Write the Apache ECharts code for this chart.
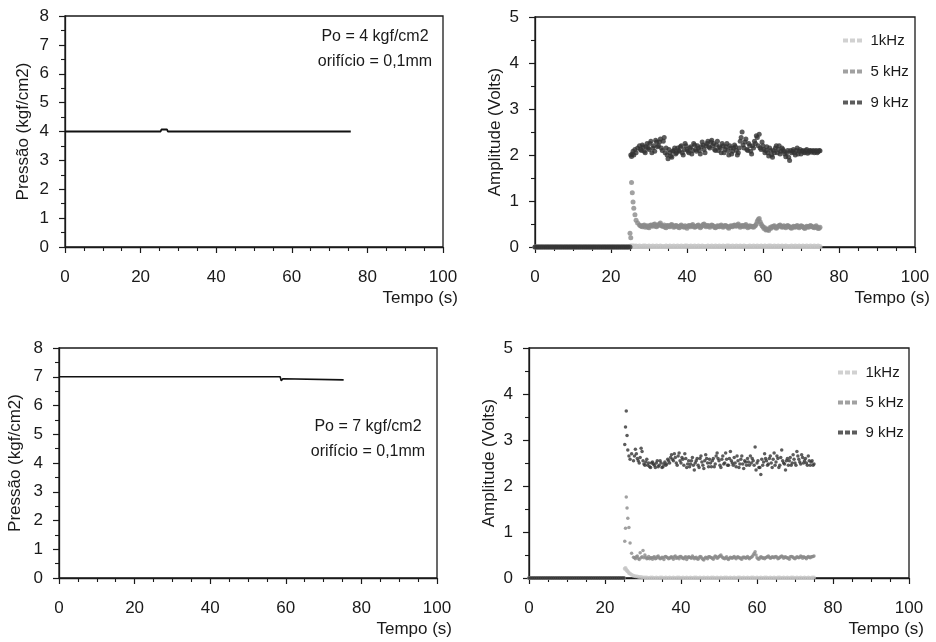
<!DOCTYPE html>
<html><head><meta charset="utf-8">
<script src="https://cdn.jsdelivr.net/npm/echarts@6/dist/echarts.min.js"></script>
<style>html,body{margin:0;padding:0;background:#fff}#c{width:936px;height:642px}</style>
</head><body><div id="c"></div>
<script>
// ---------- data ----------
const xTicks = [0, 20, 40, 60, 80, 100];
// pressure panels
const pressaoTempoA = [0, 25.3, 25.5, 27.0, 27.2, 75.6];
const pressaoA = [4, 4, 4.07, 4.07, 4, 4];
const pressaoTempoB = [0, 58.5, 58.8, 59.2, 59.5, 75.3];
const pressaoB = [7, 7, 6.86, 6.93, 6.89, 6.89];
const notaA = ['Po = 4 kgf/cm2', 'orifício = 0,1mm'];
const notaB = ['Po = 7 kgf/cm2', 'orifício = 0,1mm'];
const serieNomes = ['1kHz', '5 kHz', '9 kHz'];

// amplitude: before valve opening (all series)
const tempoPre = [0,0.5,1,1.5,2,2.5,3,3.5,4,4.5,5,5.5,6,6.5,7,7.5,8,8.5,9,9.5,10,10.5,11,11.5,12,12.5,13,13.5,14,14.5,15,15.5,16,16.5,17,17.5,18,18.5,19,19.5,20,20.5,21,21.5,22,22.5,23,23.5,24,24.5];
const ampPre = [0,0,0,0,0,0,0,0,0,0,0,0,0,0,0,0,0,0,0,0,0,0,0,0,0,0,0,0,0,0,0,0,0,0,0,0,0,0,0,0,0,0,0,0,0,0,0,0,0,0];

// amplitude: after opening
const tempoPos = [25,25.2,25.4,25.6,25.8,26,26.3,26.6,27,
27.5,28,28.5,29,29.5,30,30.5,31,31.5,32,
32.5,33,33.5,34,34.5,35,35.5,36,36.5,37,
37.5,38,38.5,39,39.5,40,40.5,41,41.5,42,
42.5,43,43.5,44,44.5,45,45.5,46,46.5,47,
47.5,48,48.5,49,49.5,50,50.5,51,51.5,52,
52.5,53,53.5,54,54.5,55,55.5,56,56.5,57,
57.5,58,58.5,59,59.5,60,60.5,61,61.5,62,
62.5,63,63.5,64,64.5,65,65.5,66,66.5,67,
67.5,68,68.5,69,69.5,70,70.5,71,71.5,72,
72.5,73,73.5,74,74.5,75];
// intermediate samples (between the ones above)
const tempoMeio = [27.75,28.25,28.75,29.25,29.75,30.25,30.75,31.25,31.75,32.25,
32.75,33.25,33.75,34.25,34.75,35.25,35.75,36.25,36.75,37.25,
37.75,38.25,38.75,39.25,39.75,40.25,40.75,41.25,41.75,42.25,
42.75,43.25,43.75,44.25,44.75,45.25,45.75,46.25,46.75,47.25,
47.75,48.25,48.75,49.25,49.75,50.25,50.75,51.25,51.75,52.25,
52.75,53.25,53.75,54.25,54.75,55.25,55.75,56.25,56.75,57.25,
57.75,58.25,58.75,59.25,59.75,60.25,60.75,61.25,61.75,62.25,
62.75,63.25,63.75,64.25,64.75,65.25,65.75,66.25,66.75,67.25,
67.75,68.25,68.75,69.25,69.75,70.25,70.75,71.25,71.75,72.25,
72.75,73.25,73.75,74.25,74.75];

// Po = 4
const amp9kA = [0,2.0,1.97,2.02,2.08,2.0,2.12,2.05,2.15,
2.2,2.1,2.18,2.05,2.25,2.12,2.3,2.15,2.08,2.28,
2.2,2.35,2.1,2.38,2.15,1.92,2.05,1.95,2.1,2.02,
2.15,2.08,2.2,2.0,2.25,2.12,2.05,2.18,2.1,2.22,
2.08,2.15,2.02,2.28,2.12,2.2,2.3,2.15,2.32,2.25,
2.1,2.3,2.18,2.05,2.2,2.12,2.25,2.0,2.15,2.08,
2.22,2.1,2.05,2.3,2.5,2.15,2.35,2.1,2.2,2.02,
2.15,2.25,2.38,2.45,2.12,2.2,2.05,2.18,1.98,2.1,
1.95,2.05,2.2,2.12,2.02,2.15,2.08,1.96,2.1,1.88,
2.05,2.12,2.0,2.15,2.08,2.02,2.1,2.05,2.12,2.06,
2.1,2.08,2.05,2.1,2.07,2.09];
const amp9kA2 = [2.12,2.22,2.08,2.18,2.15,2.25,2.05,2.2,2.32,2.18,
2.28,2.15,2.3,2.05,2.0,2.12,1.98,2.08,2.15,2.05,
2.1,2.18,2.05,2.12,2.2,2.08,2.15,2.02,2.25,2.12,
2.2,2.1,2.18,2.22,2.05,2.25,2.18,2.28,2.2,2.12,
2.22,2.1,2.15,2.25,2.05,2.18,2.1,2.2,2.02,2.15,
2.18,2.0,2.15,2.38,2.22,2.28,2.12,2.25,2.08,2.2,
2.3,2.42,2.2,2.15,2.28,2.12,2.1,2.05,2.15,2.0,
2.1,2.15,2.05,2.2,2.08,2.12,2.02,2.05,1.95,2.1,
2.08,2.05,2.1,2.02,2.12,2.08,2.06,2.1,2.04,2.09,
2.06,2.1,2.08,2.05,2.1];
const amp5kA = [0.3,0.2,1.4,1.18,0.98,0.84,0.7,0.58,0.52,
0.48,0.45,0.47,0.43,0.46,0.42,0.48,0.45,0.5,0.44,
0.47,0.52,0.45,0.48,0.42,0.46,0.44,0.49,0.43,0.47,
0.45,0.42,0.48,0.44,0.46,0.41,0.47,0.44,0.49,0.43,
0.45,0.48,0.42,0.46,0.5,0.44,0.47,0.43,0.48,0.45,
0.42,0.46,0.44,0.48,0.43,0.47,0.45,0.41,0.46,0.44,
0.48,0.45,0.5,0.43,0.47,0.44,0.49,0.42,0.46,0.45,
0.43,0.47,0.56,0.62,0.5,0.44,0.42,0.38,0.36,0.4,
0.43,0.46,0.41,0.45,0.48,0.43,0.46,0.42,0.47,0.44,
0.41,0.45,0.43,0.47,0.42,0.46,0.44,0.4,0.45,0.43,
0.47,0.44,0.42,0.46,0.4,0.43];
const amp5kA2 = [0.46,0.44,0.48,0.45,0.43,0.47,0.46,0.49,0.45,0.48,
0.5,0.47,0.45,0.43,0.47,0.45,0.48,0.46,0.44,0.46,
0.43,0.46,0.45,0.43,0.44,0.45,0.46,0.47,0.45,0.44,
0.47,0.45,0.44,0.49,0.47,0.46,0.45,0.46,0.47,0.43,
0.44,0.45,0.46,0.45,0.45,0.46,0.43,0.44,0.45,0.47,
0.46,0.48,0.46,0.45,0.46,0.47,0.45,0.44,0.44,0.44,
0.45,0.5,0.6,0.55,0.46,0.4,0.37,0.38,0.42,0.44,
0.45,0.43,0.43,0.47,0.45,0.44,0.44,0.45,0.45,0.42,
0.43,0.44,0.45,0.44,0.44,0.45,0.42,0.43,0.44,0.45,
0.45,0.43,0.44,0.43,0.41];
const amp1kA = [0,0.02,0.01,0.02,0.01,0.02,0.01,0.02,0.01,
0.02,0.01,0.02,0.02,0.01,0.02,0.01,0.02,0.01,0.02,
0.01,0.02,0.01,0.01,0.02,0.01,0.02,0.01,0.02,0.01,
0.02,0.01,0.02,0.01,0.02,0.02,0.01,0.02,0.01,0.02,
0.01,0.02,0.01,0.02,0.01,0.01,0.02,0.01,0.02,0.01,
0.02,0.01,0.02,0.01,0.02,0.01,0.02,0.02,0.01,0.02,
0.01,0.02,0.01,0.02,0.01,0.02,0.01,0.01,0.02,0.01,
0.02,0.01,0.02,0.01,0.02,0.01,0.02,0.01,0.02,0.02,
0.01,0.02,0.01,0.02,0.01,0.02,0.01,0.02,0.01,0.01,
0.02,0.01,0.02,0.01,0.02,0.01,0.02,0.01,0.02,0.01,
0.02,0.01,0.02,0.01,0.02,0.01];

// Po = 7
const amp9kB = [0,2.9,3.28,3.63,3.1,2.78,2.65,2.58,2.7,
2.55,2.8,2.6,2.5,2.82,2.55,2.45,2.58,2.5,2.4,
2.52,2.45,2.5,2.42,2.55,2.4,2.48,2.45,2.58,2.5,
2.68,2.55,2.62,2.45,2.72,2.5,2.58,2.7,2.4,2.55,
2.48,2.62,2.35,2.55,2.45,2.6,2.52,2.38,2.68,2.5,
2.58,2.42,2.6,2.48,2.72,2.55,2.4,2.65,2.5,2.58,
2.45,2.75,2.5,2.62,2.42,2.55,2.48,2.65,2.38,2.52,
2.6,2.45,2.5,2.55,2.85,2.5,2.4,2.25,2.45,2.7,
2.55,2.48,2.65,2.4,2.72,2.52,2.6,2.45,2.78,2.5,
2.35,2.6,2.55,2.45,2.68,2.5,2.75,2.58,2.48,2.62,
2.55,2.5,2.65,2.45,2.55,2.48];
const amp9kB2 = [2.65,2.7,2.55,2.62,2.75,2.48,2.52,2.45,2.42,2.5,
2.48,2.4,2.55,2.45,2.5,2.42,2.52,2.48,2.55,2.62,
2.58,2.7,2.5,2.65,2.55,2.62,2.45,2.6,2.48,2.42,
2.55,2.45,2.5,2.6,2.4,2.65,2.45,2.55,2.6,2.42,
2.5,2.55,2.42,2.65,2.6,2.45,2.58,2.48,2.72,2.45,
2.6,2.55,2.45,2.5,2.65,2.4,2.58,2.48,2.55,2.45,
2.52,2.65,2.6,2.45,2.35,2.55,2.4,2.58,2.52,2.6,
2.45,2.6,2.5,2.58,2.45,2.65,2.4,2.62,2.55,2.48,
2.55,2.45,2.62,2.5,2.58,2.45,2.65,2.52,2.68,2.5,
2.6,2.45,2.55,2.52,2.45];
const amp5kB = [0,0.8,1.08,1.76,1.52,1.3,1.1,0.76,0.54,
0.45,0.42,0.48,0.4,0.44,0.6,0.5,0.42,0.47,0.44,
0.41,0.46,0.43,0.48,0.42,0.45,0.4,0.47,0.44,0.43,
0.46,0.41,0.48,0.44,0.42,0.47,0.43,0.45,0.4,0.46,
0.44,0.48,0.42,0.45,0.41,0.47,0.43,0.39,0.45,0.42,
0.46,0.44,0.41,0.48,0.43,0.47,0.5,0.44,0.42,0.46,
0.4,0.45,0.43,0.47,0.42,0.46,0.44,0.41,0.45,0.43,
0.47,0.42,0.45,0.5,0.57,0.44,0.41,0.46,0.43,0.42,
0.45,0.48,0.43,0.46,0.44,0.47,0.42,0.45,0.48,0.43,
0.46,0.44,0.41,0.47,0.45,0.42,0.46,0.44,0.48,0.43,
0.45,0.42,0.47,0.44,0.46,0.48];
const amp5kB2 = [0.44,0.46,0.43,0.55,0.46,0.44,0.45,0.43,0.42,0.44,
0.45,0.42,0.46,0.44,0.43,0.44,0.46,0.45,0.42,0.45,
0.44,0.46,0.43,0.45,0.47,0.44,0.42,0.46,0.44,0.45,
0.43,0.45,0.44,0.42,0.44,0.46,0.41,0.43,0.44,0.46,
0.45,0.43,0.45,0.46,0.44,0.48,0.46,0.43,0.44,0.42,
0.43,0.44,0.45,0.44,0.45,0.44,0.42,0.45,0.45,0.44,
0.44,0.44,0.47,0.53,0.5,0.42,0.44,0.45,0.44,0.44,
0.46,0.45,0.44,0.45,0.46,0.45,0.43,0.46,0.46,0.45,
0.44,0.43,0.46,0.46,0.43,0.44,0.45,0.45,0.46,0.46,
0.44,0.45,0.45,0.46,0.47];
const amp1kB = [0,0.2,0.22,0.18,0.16,0.14,0.11,0.09,0.07,
0.05,0.04,0.03,0.02,0.02,0.01,0.01,0.01,0,0.01,
0.01,0,0.01,0,0.01,0.01,0,0.01,0,0.01,
0,0.01,0,0.01,0.01,0,0.01,0,0.01,0,
0.01,0,0.01,0.01,0,0.01,0,0.01,0,0.01,
0,0.01,0.01,0,0.01,0,0.01,0,0.01,0.01,
0,0.01,0,0.01,0,0.01,0.01,0,0.01,0,
0.01,0,0.01,0.01,0,0.01,0,0.01,0,0.01,
0.01,0,0.01,0,0.01,0,0.01,0.01,0,0.01,
0,0.01,0,0.01,0.01,0,0.01,0,0.01,0,
0.01,0,0.01,0,0.01,0.01];

// ---------- chart ----------
const F = '"Liberation Sans", Arial, sans-serif';
const INK = '#1a1a1a';
const COL = ['#c6c6c6', '#8a8a8a', '#333333'];

function pairs(ts, vs) { return ts.map((t, i) => [t, vs[i]]); }
function serie(vs, vsMeio) {
  let d = pairs(tempoPre, ampPre).concat(pairs(tempoPos, vs));
  if (vsMeio) d = d.concat(pairs(tempoMeio, vsMeio));
  return d;
}

const grids = [
  {left: 65, top: 16, width: 378, height: 231},
  {left: 535, top: 17, width: 380, height: 230},
  {left: 59, top: 348, width: 378, height: 230},
  {left: 529, top: 348, width: 380, height: 230}
].map(g => Object.assign(g, {show: true, borderColor: INK, borderWidth: 1.3, backgroundColor: 'transparent'}));

function xAx(gi) {
  return {
    type: 'value', gridIndex: gi, min: xTicks[0], max: xTicks[xTicks.length - 1], interval: xTicks[1] - xTicks[0],
    name: 'Tempo (s)', nameLocation: 'end', nameGap: 15,
    nameTextStyle: {align: 'right', verticalAlign: 'top', padding: [43, 0, 0, 0], fontSize: 17, color: INK, fontFamily: F},
    axisLine: {onZero: false, lineStyle: {color: INK, width: 1.3}},
    axisTick: {length: 6, lineStyle: {color: INK, width: 1.2}},
    minorTick: {show: true, splitNumber: 4, length: 4, lineStyle: {color: INK, width: 1.1}},
    axisLabel: {margin: 22, fontSize: 17, color: INK, fontFamily: F},
    splitLine: {show: false}
  };
}
function yAx(gi, max, name, gap) {
  return {
    type: 'value', gridIndex: gi, min: 0, max: max, interval: 1,
    name: name, nameLocation: 'middle', nameGap: gap,
    nameTextStyle: {fontSize: 17, color: INK, fontFamily: F},
    axisLine: {lineStyle: {color: INK, width: 1.3}},
    axisTick: {length: 6, lineStyle: {color: INK, width: 1.2}},
    minorTick: {show: true, splitNumber: 2, length: 4, lineStyle: {color: INK, width: 1.1}},
    axisLabel: {margin: 16, fontSize: 17, color: INK, fontFamily: F},
    splitLine: {show: false}
  };
}

function scatter(name, gi, data, color, size, z) {
  return {
    type: 'scatter', name: name, xAxisIndex: gi, yAxisIndex: gi,
    data: data, symbol: 'circle', symbolSize: size,
    itemStyle: {color: color}, z: z, silent: true, large: false
  };
}

const legendIcon = 'path://M0,0H5V4H0Z M7,0H12V4H7Z M14,0H19V4H14Z';
function legend(left, top, gap) {
  return {
    orient: 'vertical', left: left, top: top, itemGap: gap, itemWidth: 22, itemHeight: 4,
    icon: legendIcon, data: serieNomes, selectedMode: false,
    textStyle: {fontSize: 15, color: INK, fontFamily: F, padding: [0, 0, 0, 2]}
  };
}

function nota(lines, cx, y1, y2) {
  return [
    {type: 'text', x: cx, y: y1, style: {text: lines[0], fill: INK, font: '16px ' + F, textAlign: 'center', textVerticalAlign: 'middle'}},
    {type: 'text', x: cx, y: y2, style: {text: lines[1], fill: INK, font: '16px ' + F, textAlign: 'center', textVerticalAlign: 'middle'}}
  ];
}

const option = {
  backgroundColor: '#fff',
  animation: false,
  grid: grids,
  xAxis: [xAx(0), xAx(1), xAx(2), xAx(3)],
  yAxis: [
    yAx(0, 8, 'Pressão (kgf/cm2)', 33),
    yAx(1, 5, 'Amplitude (Volts)', 31),
    yAx(2, 8, 'Pressão (kgf/cm2)', 35),
    yAx(3, 5, 'Amplitude (Volts)', 31)
  ],
  legend: [legend(838, 28, 16), legend(833, 360, 15)],
  graphic: nota(notaA, 375, 37, 62).concat(nota(notaB, 368, 427, 452)),
  series: [
    {type: 'line', xAxisIndex: 0, yAxisIndex: 0, data: pairs(pressaoTempoA, pressaoA), showSymbol: false, lineStyle: {color: '#111', width: 1.8}, silent: true},
    {type: 'line', xAxisIndex: 2, yAxisIndex: 2, data: pairs(pressaoTempoB, pressaoB), showSymbol: false, lineStyle: {color: '#111', width: 1.6}, silent: true},
    scatter(serieNomes[0], 1, serie(amp1kA), COL[0], 5, 3),
    scatter(serieNomes[1], 1, serie(amp5kA, amp5kA2), COL[1], 5, 4),
    scatter(serieNomes[2], 1, serie(amp9kA, amp9kA2), COL[2], 5, 5),
    scatter(serieNomes[0], 3, serie(amp1kB), COL[0], 4, 3),
    scatter(serieNomes[1], 3, serie(amp5kB, amp5kB2), COL[1], 3.5, 4),
    scatter(serieNomes[2], 3, serie(amp9kB, amp9kB2), COL[2], 3.5, 5)
  ]
};

const chart = echarts.init(document.getElementById('c'), null, {renderer: 'canvas'});
chart.setOption(option);
</script></body></html>
